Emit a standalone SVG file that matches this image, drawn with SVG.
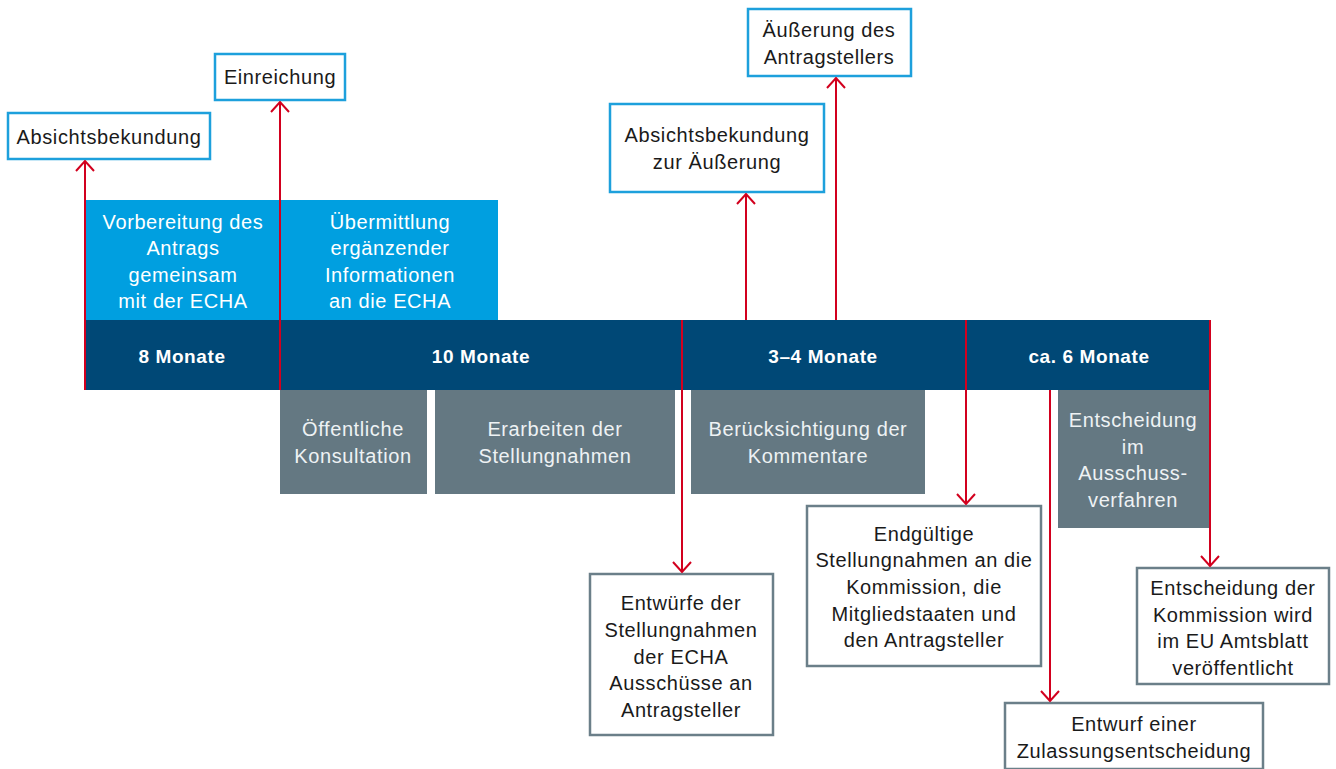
<svg xmlns="http://www.w3.org/2000/svg" width="1336" height="769" viewBox="0 0 1336 769">
<defs>
<style>
.t{font-family:"Liberation Sans",Arial,sans-serif;font-size:20px;letter-spacing:0.6px;fill:#1a1a1a;text-anchor:middle}
.w{fill:#ffffff}
.g{fill:#eef2f4}
.b{font-weight:bold;font-size:19px;letter-spacing:0.6px;fill:#ffffff}
.bb{fill:#ffffff;stroke:#1da0dc;stroke-width:2.5}
.gb{fill:#ffffff;stroke:#6b7f89;stroke-width:2.5}
.gray{fill:#647882}
.lb{fill:#009fe0}
.dk{fill:#004876}
.ln{stroke:#d2001e;stroke-width:2;fill:none}
</style>
<marker id="ah" viewBox="0 0 12 20" refX="11" refY="10" markerWidth="12" markerHeight="20" markerUnits="userSpaceOnUse" orient="auto">
<path d="M1,1 L11,10 L1,19" fill="none" stroke="#d2001e" stroke-width="2"/>
</marker>
</defs>

<g id="bar">
<rect class="lb" x="86" y="200" width="412" height="120"/>
<rect class="dk" x="85" y="320" width="1125" height="70"/>
<text class="t b" x="182" y="363">8 Monate</text>
<text class="t b" x="481" y="363">10 Monate</text>
<text class="t b" x="823" y="363">3–4 Monate</text>
<text class="t b" x="1089" y="363">ca. 6 Monate</text>
</g>

<g id="vorbereitung">
<text class="t w" x="183" y="229">Vorbereitung des</text>
<text class="t w" x="183" y="255">Antrags</text>
<text class="t w" x="183" y="282">gemeinsam</text>
<text class="t w" x="183" y="308">mit der ECHA</text>
</g>
<g id="uebermittlung">
<text class="t w" x="390" y="229">Übermittlung</text>
<text class="t w" x="390" y="255">ergänzender</text>
<text class="t w" x="390" y="282">Informationen</text>
<text class="t w" x="390" y="308">an die ECHA</text>
</g>

<g id="konsultation">
<rect class="gray" x="280" y="390" width="147" height="104"/>
<text class="t g" x="353" y="436">Öffentliche</text>
<text class="t g" x="353" y="463">Konsultation</text>
</g>
<g id="erarbeiten">
<rect class="gray" x="435" y="390" width="240" height="104"/>
<text class="t g" x="555" y="436">Erarbeiten der</text>
<text class="t g" x="555" y="463">Stellungnahmen</text>
</g>
<g id="beruecksichtigung">
<rect class="gray" x="691" y="390" width="234" height="104"/>
<text class="t g" x="808" y="436">Berücksichtigung der</text>
<text class="t g" x="808" y="463">Kommentare</text>
</g>
<g id="ausschuss">
<rect class="gray" x="1058" y="390" width="151" height="138"/>
<text class="t g" x="1133" y="427">Entscheidung</text>
<text class="t g" x="1133" y="454">im</text>
<text class="t g" x="1133" y="480">Ausschuss-</text>
<text class="t g" x="1133" y="507">verfahren</text>
</g>

<g id="absicht">
<rect class="bb" x="8" y="113" width="202" height="46"/>
<text class="t" x="109" y="144">Absichtsbekundung</text>
</g>
<g id="einreichung">
<rect class="bb" x="215" y="54" width="130" height="46"/>
<text class="t" x="280" y="84">Einreichung</text>
</g>
<g id="absicht2">
<rect class="bb" x="610" y="104" width="214" height="88"/>
<text class="t" x="717" y="142">Absichtsbekundung</text>
<text class="t" x="717" y="169">zur Äußerung</text>
</g>
<g id="aeusserung">
<rect class="bb" x="748" y="9" width="163" height="67"/>
<text class="t" x="829" y="37">Äußerung des</text>
<text class="t" x="829" y="64">Antragstellers</text>
</g>

<g id="entwuerfe">
<rect class="gb" x="590" y="574" width="183" height="161"/>
<text class="t" x="681" y="610">Entwürfe der</text>
<text class="t" x="681" y="637">Stellungnahmen</text>
<text class="t" x="681" y="664">der ECHA</text>
<text class="t" x="681" y="690">Ausschüsse an</text>
<text class="t" x="681" y="717">Antragsteller</text>
</g>
<g id="endgueltig">
<rect class="gb" x="807" y="506" width="234" height="160"/>
<text class="t" x="924" y="541">Endgültige</text>
<text class="t" x="924" y="567">Stellungnahmen an die</text>
<text class="t" x="924" y="594">Kommission, die</text>
<text class="t" x="924" y="621">Mitgliedstaaten und</text>
<text class="t" x="924" y="647">den Antragsteller</text>
</g>
<g id="kommission">
<rect class="gb" x="1137" y="568" width="192" height="116"/>
<text class="t" x="1233" y="595">Entscheidung der</text>
<text class="t" x="1233" y="622">Kommission wird</text>
<text class="t" x="1233" y="648">im EU Amtsblatt</text>
<text class="t" x="1233" y="675">veröffentlicht</text>
</g>
<g id="entwurf">
<rect class="gb" x="1005" y="703" width="258" height="66"/>
<text class="t" x="1134" y="731">Entwurf einer</text>
<text class="t" x="1134" y="758">Zulassungsentscheidung</text>
</g>

<g id="connectors">
<line class="ln" x1="85" y1="390" x2="85" y2="161" marker-end="url(#ah)"/>
<line class="ln" x1="280" y1="390" x2="280" y2="102" marker-end="url(#ah)"/>
<line class="ln" x1="746" y1="320" x2="746" y2="194" marker-end="url(#ah)"/>
<line class="ln" x1="836" y1="320" x2="836" y2="78" marker-end="url(#ah)"/>
<line class="ln" x1="682" y1="320" x2="682" y2="572" marker-end="url(#ah)"/>
<line class="ln" x1="966" y1="320" x2="966" y2="504" marker-end="url(#ah)"/>
<line class="ln" x1="1050" y1="390" x2="1050" y2="701" marker-end="url(#ah)"/>
<line class="ln" x1="1210" y1="320" x2="1210" y2="566" marker-end="url(#ah)"/>
</g>
</svg>
